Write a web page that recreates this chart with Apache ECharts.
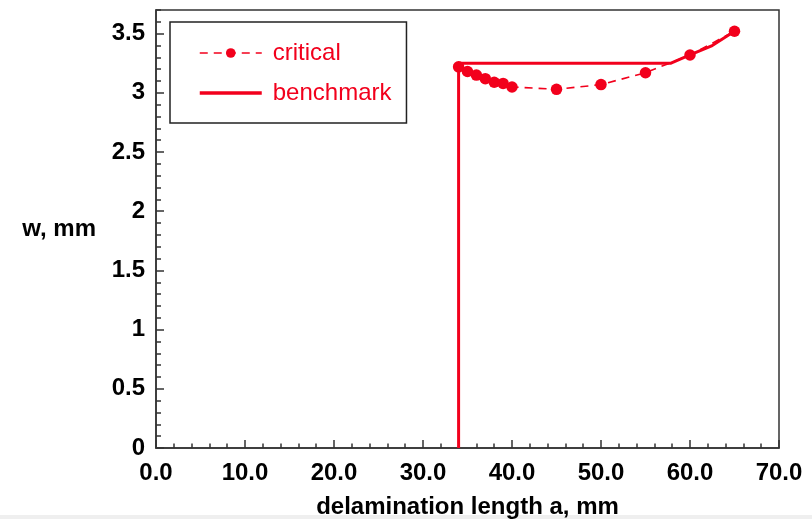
<!DOCTYPE html>
<html>
<head>
<meta charset="utf-8">
<title>w vs delamination length</title>
<script src="https://cdn.jsdelivr.net/npm/echarts@6/dist/echarts.min.js"></script>
<style>
  html, body { margin: 0; padding: 0; background: #fff; }
  #chart { width: 812px; height: 519px; }
</style>
</head>
<body>
<div id="chart"></div>
<script>
// Critical deflection at each delamination length (a in mm, w in mm)
const criticalA = [34, 35, 36, 37, 38, 39, 40, 45, 50, 55, 60, 65];
const criticalW = [3.22, 3.18, 3.15, 3.12, 3.09, 3.08, 3.05, 3.03, 3.07, 3.17, 3.32, 3.52];

// Benchmark curve: vertical rise at a = 34, plateau, then joins the critical branch
const benchmarkA = [34, 34, 57.8, 60, 62.5, 65];
const benchmarkW = [0, 3.25, 3.25, 3.32, 3.40, 3.52];

const seriesNames = ['critical', 'benchmark'];

const RED = '#f2001c';
const AXIS = '#333333';
const FONT = '"Liberation Sans", Arial, Helvetica, sans-serif';

const pairs = (xs, ys) => xs.map((x, i) => [x, ys[i]]);

const chart = echarts.init(document.getElementById('chart'), null, { renderer: 'canvas' });

chart.setOption({
  animation: false,
  backgroundColor: '#ffffff',
  textStyle: { fontFamily: FONT },
  grid: {
    left: 156, right: 33, top: 10, bottom: 71,
    outerBoundsMode: 'none',
    containLabel: false,
    show: true, borderColor: AXIS, borderWidth: 1.5, backgroundColor: 'transparent'
  },
  legend: {
    data: [
      { name: seriesNames[0], itemStyle: { color: RED }, lineStyle: { width: 1.5 } },
      // plain line sample, no marker
      { name: seriesNames[1], itemStyle: { opacity: 0 }, lineStyle: { width: 3.5 } }
    ],
    orient: 'vertical',
    left: 170, top: 22,
    padding: [19, 15, 18, 28],
    itemGap: 16,
    itemWidth: 62,
    itemHeight: 12,
    borderColor: '#222',
    borderWidth: 1.5,
    backgroundColor: '#fff',
    textStyle: { color: RED, fontSize: 24, fontFamily: FONT, padding: [0, 0, 0, 6] }
  },
  xAxis: {
    type: 'value',
    min: 0, max: 70, interval: 10,
    name: 'delamination length a, mm',
    nameLocation: 'middle',
    nameGap: 47,
    nameTextStyle: { fontSize: 24, fontWeight: 'bold', color: '#000', fontFamily: FONT },
    axisLine: { onZero: false, lineStyle: { color: AXIS, width: 1.5 } },
    axisTick: { inside: true, length: 8, lineStyle: { color: AXIS, width: 1.5 } },
    minorTick: { show: true, splitNumber: 5, length: 4.5, lineStyle: { color: AXIS, width: 1.5 } },
    axisLabel: {
      margin: 13, fontSize: 24, fontWeight: 'bold', color: '#000', fontFamily: FONT,
      formatter: v => v.toFixed(1)
    },
    splitLine: { show: false }
  },
  yAxis: [
    {
      type: 'value',
      min: 0, max: 3.7, interval: 0.5,
      name: 'w, mm',
      nameLocation: 'middle',
      nameRotate: 0,
      nameGap: 60,
      nameTextStyle: {
        fontSize: 24, fontWeight: 'bold', color: '#000', fontFamily: FONT,
        padding: [10, 0, 0, 0]
      },
      axisLine: { onZero: false, lineStyle: { color: AXIS, width: 1.5 } },
      axisTick: { inside: true, length: 8, lineStyle: { color: AXIS, width: 1.5 } },
      axisLabel: {
        margin: 11, fontSize: 24, fontWeight: 'bold', color: '#000', fontFamily: FONT,
        showMaxLabel: false,
        formatter: v => String(Math.round(v * 10) / 10)
      },
      splitLine: { show: false }
    },
    {
      // minor ticks every 0.1 mm along the left edge
      type: 'value',
      position: 'left',
      min: 0, max: 3.7, interval: 0.1,
      axisLine: { show: false },
      axisTick: { inside: true, length: 5, lineStyle: { color: AXIS, width: 1.5 } },
      axisLabel: { show: false },
      splitLine: { show: false }
    }
  ],
  series: [
    {
      name: 'critical',
      type: 'line',
      data: pairs(criticalA, criticalW),
      symbol: 'circle',
      symbolSize: 11.5,
      color: RED,
      itemStyle: { color: RED },
      lineStyle: { color: RED, width: 1.6, type: [8, 6] },
      z: 3
    },
    {
      name: 'benchmark',
      type: 'line',
      data: pairs(benchmarkA, benchmarkW),
      symbol: 'none',
      color: RED,
      lineStyle: { color: RED, width: 3 },
      z: 4
    }
  ],
  graphic: [
    {
      type: 'rect',
      left: 0, top: 515,
      shape: { width: 812, height: 4 },
      style: { fill: '#efefef' },
      silent: true
    }
  ]
});
</script>
</body>
</html>
